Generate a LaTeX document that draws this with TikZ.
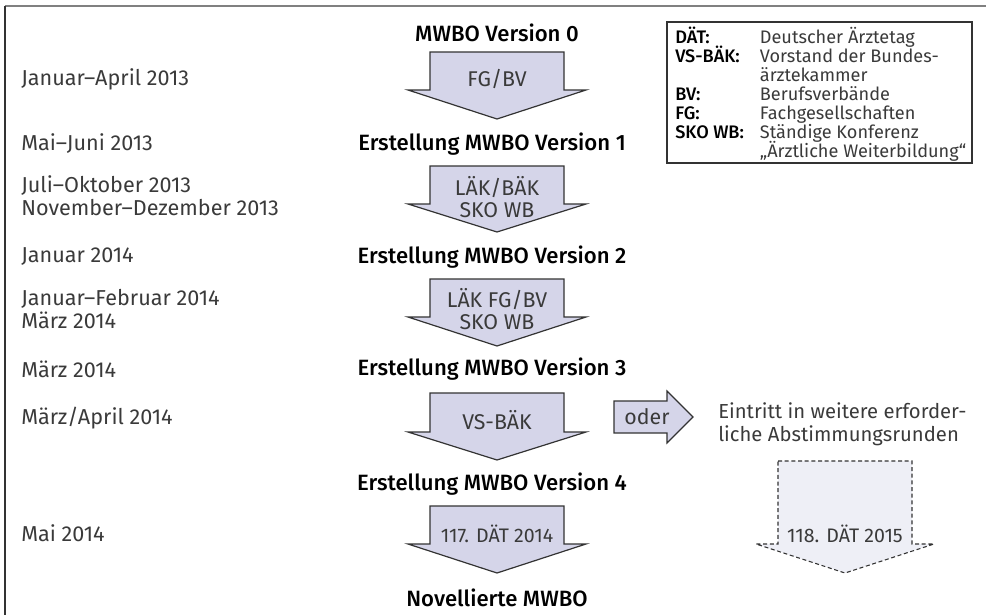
\documentclass[tikz,border=0pt]{standalone}
\usepackage{fontspec}
\setmainfont{Fira Sans}[BoldFont={Fira Sans Medium}]
\definecolor{arrowfill}{HTML}{D5D5E9}
\definecolor{lightfill}{HTML}{EEEFF6}
\definecolor{outline}{HTML}{333333}
\definecolor{txt}{HTML}{3A3A3A}
\newcommand{\DArrow}[5]{%
  \draw[#1] (#2-67,#3) -- (#2+67,#3) -- (#2+67,#4) -- (#2+89,#4) -- (#2,#5) -- (#2-89,#4) -- (#2-67,#4) -- cycle;}
\newcommand{\legfont}{\fontsize{13.6}{14.25}\selectfont\lineskiplimit=-20pt\relax}
\begin{document}
\begin{tikzpicture}[x=0.75pt,y=-0.75pt,
  arr/.style={fill=arrowfill,draw=outline,line width=0.9pt,line join=miter},
  darr/.style={fill=lightfill,draw=outline,line width=0.8pt,dash pattern=on 3pt off 2pt},
  datelbl/.style={anchor=west,inner sep=0pt,text=txt,font=\fontsize{16.2}{17.25}\selectfont,align=left},
  verlbl/.style={inner sep=0pt,text=black,font=\fontsize{16.6}{17.25}\selectfont\bfseries},
  inlbl/.style={inner sep=0pt,text=txt,font=\fontsize{16}{16}\selectfont,align=center},
  numlbl/.style={inner sep=0pt,text=txt,font=\fontsize{14.7}{16}\selectfont}]
\useasboundingbox (0,0) rectangle (986,615);
% frame
\draw[gray,line width=1.5pt] (5,6) -- (986,6);
\draw[outline,line width=1.5pt] (5,6) -- (5,615);
% version labels
\node[verlbl] (v0) at (497,33) {MWBO Version 0};
\node[verlbl] (v1) at (492,144) {Erstellung MWBO Version 1};
\node[verlbl] (v2) at (492,257) {Erstellung MWBO Version 2};
\node[verlbl] (v3) at (492,369) {Erstellung MWBO Version 3};
\node[verlbl] (v4) at (492,484) {Erstellung MWBO Version 4};
\node[verlbl] (v5) at (497,598) {Novellierte MWBO};
% arrows
\DArrow{arr}{497}{52}{90}{119}
\DArrow{arr}{497}{166}{204}{232}
\DArrow{arr}{497}{279}{317}{346}
\DArrow{arr}{497}{393}{432}{460}
\DArrow{arr}{497}{506}{544}{573}
\DArrow{darr}{845}{461}{544}{573}
\node[inlbl] (a1) at (497,79) {FG/BV};
\node[inlbl] (a2) at (497,197) {LÄK/BÄK\\SKO WB};
\node[inlbl] (a3) at (497,309) {LÄK FG/BV\\SKO WB};
\node[inlbl] (a4) at (497,420) {VS-BÄK};
\node[numlbl] (a5) at (497,534) {117. DÄT 2014};
\node[numlbl] (a6) at (845,534) {118. DÄT 2015};
% oder arrow
\draw[arr] (614,401) -- (667,401) -- (667,391) -- (693,417) -- (667,443) -- (667,433) -- (614,433) -- cycle;
\node[inlbl] (oder) at (647,417) {oder};
\node[datelbl,font=\fontsize{15.2}{17.6}\selectfont] (ein) at (718,424) {Eintritt in weitere erforder-\\liche Abstimmungsrunden};
% dates
\node[datelbl] (d1) at (21,79) {Januar–April 2013};
\node[datelbl] (d2) at (21,144) {Mai–Juni 2013};
\node[datelbl] (d3) at (21,196) {Juli–Oktober 2013\\November–Dezember 2013};
\node[datelbl] (d4) at (21,257) {Januar 2014};
\node[datelbl] (d5) at (21,309) {Januar–Februar 2014\\März 2014};
\node[datelbl] (d6) at (21,369) {März 2014};
\node[datelbl] (d7) at (21,418) {März/April 2014};
\node[datelbl] (d8) at (21,533) {Mai 2014};
% legend
\draw[outline,line width=1.1pt] (667,22) rectangle (972,163);
\node[anchor=north west,inner sep=0pt,text=txt,align=left,font=\legfont] (leg) at (675,27)
{\makebox[63.5pt][l]{\color{black}\bfseries DÄT:}Deutscher Ärztetag\\
 \makebox[63.5pt][l]{\color{black}\bfseries VS-BÄK:}Vorstand der Bundes-\\
 \makebox[63.5pt][l]{}ärztekammer\\
 \makebox[63.5pt][l]{\color{black}\bfseries BV:}Berufsverbände\\
 \makebox[63.5pt][l]{\color{black}\bfseries FG:}Fachgesellschaften\\
 \makebox[63.5pt][l]{\color{black}\bfseries SKO WB:}Ständige Konferenz\\
 \makebox[63.5pt][l]{}„Ärztliche Weiterbildung“};
\end{tikzpicture}
\end{document}
